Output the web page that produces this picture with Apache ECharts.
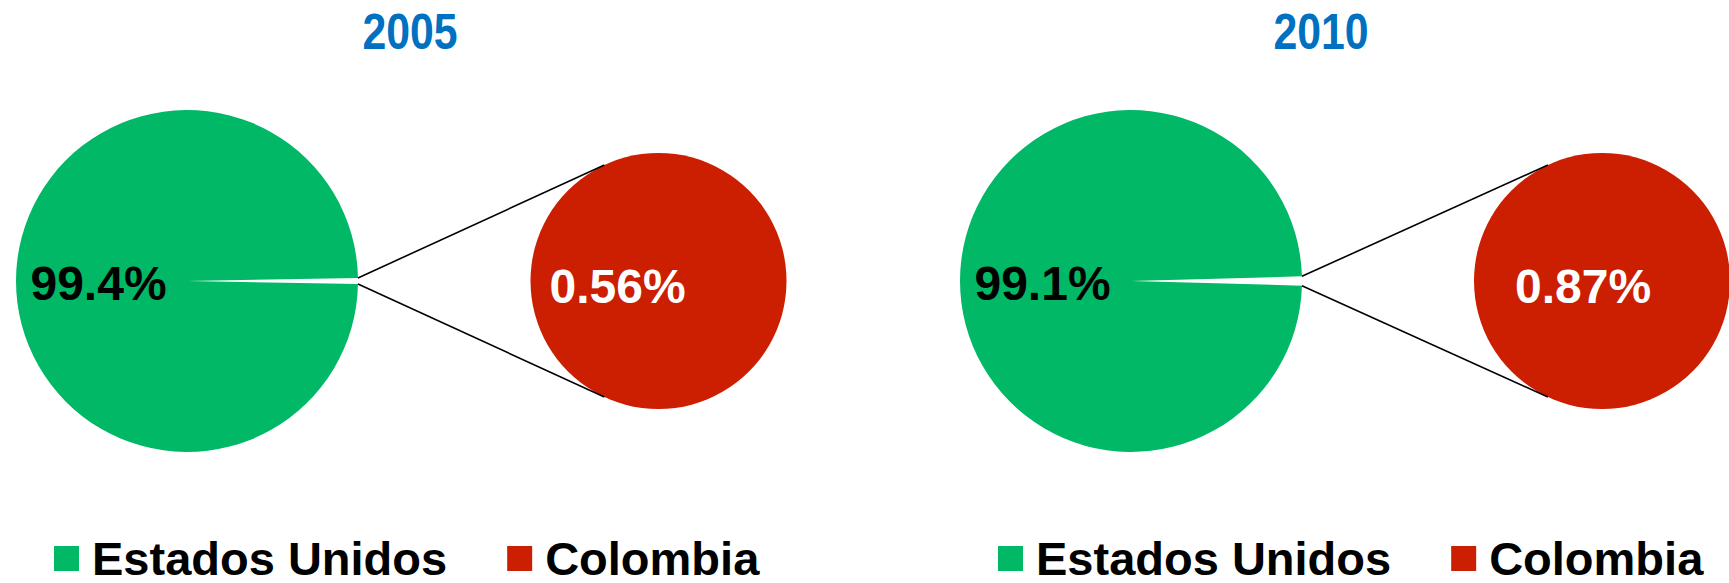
<!DOCTYPE html>
<html>
<head>
<meta charset="utf-8">
<script src="https://cdn.jsdelivr.net/npm/echarts@6/dist/echarts.min.js"></script>
<style>
html,body{margin:0;padding:0;background:#ffffff;}
#c{width:1729px;height:583px;}
</style>
</head>
<body>
<div id="c"></div>
<script>
// ---- data ----
const years = ['2005', '2010'];
const categories = ['Estados Unidos', 'Colombia'];
const usShare = [99.4, 99.1];
const colShare = [0.56, 0.87];

// ---- style / layout ----
const GREEN = '#00B865', RED = '#CC1E00', BLUE = '#0070C0';
const FONT = "'Liberation Sans', Arial, Helvetica, sans-serif";
const BIG_R = 171, SMALL_R = 128;
const TANGENT_DEG = 115;
const TITLE_Y = 32, TITLE_SCALE_X = 0.856;
const panels = [
  { bigCenter: [187, 281], smallCenter: [658.5, 281], titleX: 410, legendLeft: 54, smallLabelOffset: [-41, 5] },
  { bigCenter: [1131, 281], smallCenter: [1602, 281], titleX: 1321, legendLeft: 998, smallLabelOffset: [-19, 5] }
];

const chart = echarts.init(document.getElementById('c'), null, { renderer: 'svg' });

const series = [];
panels.forEach((p, i) => {
  const half = colShare[i] / (colShare[i] + usShare[i]) * 360 / 2;
  series.push({
    type: 'pie', center: p.bigCenter, radius: BIG_R, startAngle: half, clockwise: true,
    silent: true, animation: false, avoidLabelOverlap: false,
    labelLine: { show: false }, itemStyle: { borderWidth: 0 }, emphasis: { disabled: true },
    label: { show: false },
    data: [
      { name: categories[1], value: colShare[i], itemStyle: { color: '#ffffff' }, label: { show: false } },
      { name: categories[0], value: usShare[i], itemStyle: { color: GREEN },
        label: { show: true, position: 'inside', formatter: '{c}%', color: '#000000',
                 fontSize: 48, fontWeight: 'bold', fontFamily: FONT, offset: [0, 2] } }
    ]
  });
  series.push({
    type: 'pie', center: p.smallCenter, radius: SMALL_R, startAngle: 0, clockwise: true,
    silent: true, animation: false, avoidLabelOverlap: false,
    labelLine: { show: false }, itemStyle: { borderWidth: 0 }, emphasis: { disabled: true },
    label: { show: true, position: 'center', formatter: '{c}%', color: '#ffffff',
             fontSize: 48, fontWeight: 'bold', fontFamily: FONT, offset: p.smallLabelOffset },
    data: [ { name: categories[1], value: colShare[i], itemStyle: { color: RED } } ]
  });
});

const option = {
  backgroundColor: '#ffffff',
  animation: false,
  legend: panels.map((p) => ({
    left: p.legendLeft, top: 535, padding: 0, orient: 'horizontal', icon: 'rect',
    itemWidth: 25, itemHeight: 25, itemGap: 60, selectedMode: false,
    data: [
      { name: categories[0], itemStyle: { color: GREEN } },
      { name: categories[1], itemStyle: { color: RED } }
    ],
    textStyle: { fontSize: 47, fontWeight: 'bold', color: '#000000', fontFamily: FONT, padding: [0, 0, 0, 8] }
  })),
  series: series
};
chart.setOption(option);

// titles (condensed, as in the reference) and connector lines derived from the pie layouts
function overlays() {
  const els = [];
  panels.forEach((p, i) => {
    els.push({ type: 'text', x: p.titleX, y: TITLE_Y, scaleX: TITLE_SCALE_X, silent: true, z: 100,
      style: { text: years[i], fill: BLUE, fontSize: 50, fontWeight: 'bold', fontFamily: FONT,
               align: 'center', verticalAlign: 'middle' } });
  });
  let model = null;
  try { model = chart.getModel(); } catch (e) {}
  panels.forEach((p, i) => {
    let big = null, small = null;
    try {
      big = model.getSeriesByIndex(2 * i).getData().getItemLayout(0);
      small = model.getSeriesByIndex(2 * i + 1).getData().getItemLayout(0);
    } catch (e) {}
    if (!big || big.cx == null) {
      const half = colShare[i] / (colShare[i] + usShare[i]) * Math.PI;
      big = { cx: p.bigCenter[0], cy: p.bigCenter[1], r: BIG_R, startAngle: -half, endAngle: half };
    }
    if (!small || small.cx == null) {
      small = { cx: p.smallCenter[0], cy: p.smallCenter[1], r: SMALL_R };
    }
    const a = [big.startAngle, big.endAngle].map(t => [big.cx + big.r * Math.cos(t), big.cy + big.r * Math.sin(t)]);
    a.sort((u, v) => u[1] - v[1]);
    const t = TANGENT_DEG * Math.PI / 180;
    const qU = [small.cx + small.r * Math.cos(-t), small.cy + small.r * Math.sin(-t)];
    const qL = [small.cx + small.r * Math.cos(t), small.cy + small.r * Math.sin(t)];
    [[a[0], qU], [a[1], qL]].forEach(seg => {
      els.push({ type: 'line', z: 100, silent: true,
        shape: { x1: seg[0][0], y1: seg[0][1], x2: seg[1][0], y2: seg[1][1] },
        style: { stroke: '#000000', lineWidth: 1.6 } });
    });
  });
  chart.setOption({ graphic: els });
}
overlays();
</script>
</body>
</html>
